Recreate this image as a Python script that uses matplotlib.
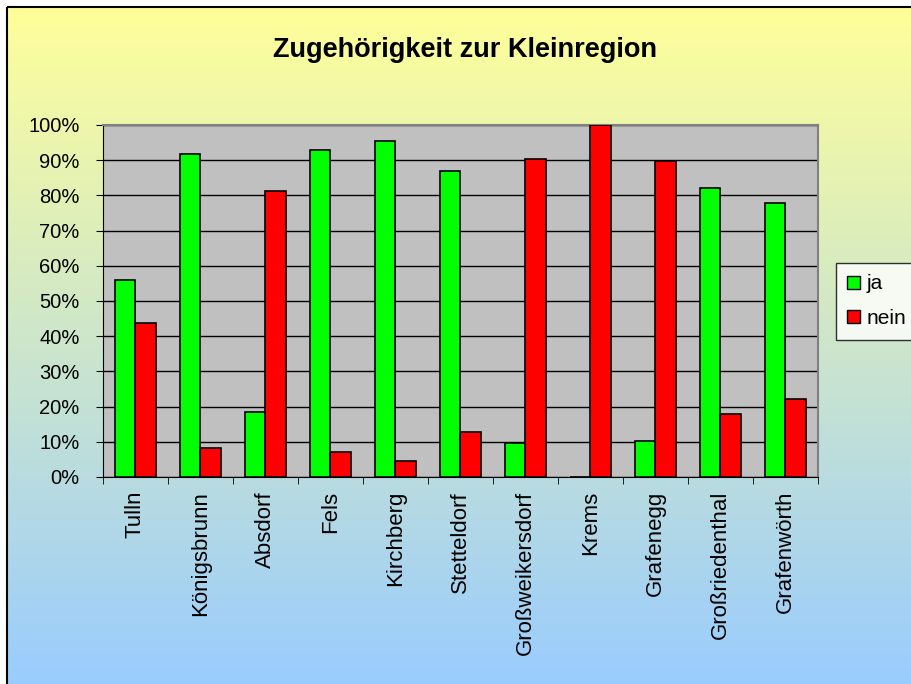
import numpy as np
import matplotlib
matplotlib.use("Agg")
import matplotlib.pyplot as plt
from matplotlib.patches import Patch, Rectangle
from matplotlib.colors import LinearSegmentedColormap

plt.rcParams['font.family'] = ['Liberation Sans', 'DejaVu Sans']

# Data
orte = ['Tulln', 'Königsbrunn', 'Absdorf', 'Fels', 'Kirchberg', 'Stetteldorf',
        'Großweikersdorf', 'Krems', 'Grafenegg', 'Großriedenthal', 'Grafenwörth']
ja = [56.1, 91.7, 18.5, 92.8, 95.4, 87.0, 9.7, 0.0, 10.2, 82.0, 77.8]
nein = [43.7, 8.2, 81.3, 7.1, 4.5, 12.8, 90.2, 100.0, 89.7, 18.0, 22.1]
y_ticks = [0, 10, 20, 30, 40, 50, 60, 70, 80, 90, 100]

W, H = 912, 684
fig = plt.figure(figsize=(W / 100, H / 100), dpi=100)
fig.patch.set_facecolor('white')

# Background with gradient (yellow to light blue)
bg = fig.add_axes([0, 0, 1, 1])
bg.set_xlim(0, W)
bg.set_ylim(H, 0)
bg.axis('off')
cmap = LinearSegmentedColormap.from_list('bg', ['#FFFF99', '#99CCFF'])
grad = np.linspace(0, 1, 256).reshape(-1, 1)
bg.imshow(grad, cmap=cmap, aspect='auto', extent=(7, W + 5, H + 5, 7), zorder=0)
bg.add_patch(Rectangle((7, 7), W, H, fill=False, edgecolor='black', lw=1.5, zorder=1))

# Title
fig.text(465 / W, 1 - 50 / H, 'Zugehörigkeit zur Kleinregion', ha='center', va='center',
         fontsize=19.5, fontweight='bold')

# Main chart
ax = fig.add_axes([103 / W, 1 - 477 / H, (818 - 103) / W, (477 - 125) / H])
ax.set_facecolor('#C0C0C0')
x = np.arange(len(orte))
bw = 0.31
ax.bar(x - bw / 2, ja, bw, color='#00FF00', edgecolor='black', linewidth=1.2, zorder=3, label='ja')
ax.bar(x + bw / 2, nein, bw, color='#FF0000', edgecolor='black', linewidth=1.2, zorder=3, label='nein')

ax.set_xlim(-0.5, len(orte) - 0.5)
ax.set_ylim(0, 100)
ax.set_yticks(y_ticks)
ax.set_yticklabels([f'{v}%' for v in y_ticks], fontsize=14.5)
ax.yaxis.grid(True, color='black', linewidth=1, zorder=1)
ax.set_axisbelow(True)
ax.tick_params(axis='y', length=5, pad=12, direction='out')

ax.set_xticks(x)
ax.set_xticklabels(orte, rotation=90, fontsize=16, va='top', ha='center')
ax.set_xticks(np.arange(-0.5, len(orte), 1), minor=True)
ax.tick_params(axis='x', which='major', length=0, pad=10)
ax.tick_params(axis='x', which='minor', length=5, direction='out')

for side in ['top', 'right']:
    ax.spines[side].set_color('#808080')
    ax.spines[side].set_linewidth(1.5)
ax.spines['left'].set_color('black')
ax.spines['bottom'].set_color('black')

# Legend
handles = [Patch(facecolor='#00FF00', edgecolor='black', label='ja'),
           Patch(facecolor='#FF0000', edgecolor='black', label='nein')]
leg = fig.legend(handles=handles, loc='upper left', bbox_to_anchor=(836 / W, 1 - 263 / H),
                 fontsize=15, frameon=True, fancybox=False, edgecolor='black',
                 handlelength=0.6, handleheight=0.6, handletextpad=0.3,
                 borderpad=0.55, labelspacing=0.75, borderaxespad=0)
leg.get_frame().set_facecolor('white')
leg.get_frame().set_linewidth(1)

fig.savefig('out.png', dpi=100)
